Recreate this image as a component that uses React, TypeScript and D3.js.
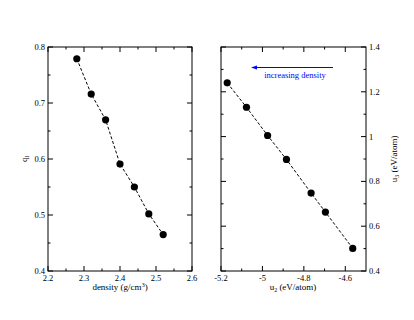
import { useEffect, useRef } from "react";
import * as d3 from "d3";

const density = [2.28, 2.32, 2.36, 2.4, 2.44, 2.48, 2.52];
const qValues = [0.779, 0.716, 0.67, 0.591, 0.55, 0.502, 0.465];
const u2Values = [-5.17, -5.077, -4.975, -4.884, -4.765, -4.696, -4.564];
const u3Values = [1.24, 1.131, 1.005, 0.898, 0.748, 0.663, 0.501];

const leftXTicks = [2.2, 2.3, 2.4, 2.5, 2.6];
const leftYTicks = [0.4, 0.5, 0.6, 0.7, 0.8];
const rightXTicks = [-5.2, -5, -4.8, -4.6];
const rightYTicks = [0.4, 0.6, 0.8, 1, 1.2, 1.4];

const FONT = "'Liberation Serif', 'Times New Roman', serif";

const App = () => {
  const svgRef = useRef<SVGSVGElement>(null);

  useEffect(() => {
    const svg = d3.select(svgRef.current);
    svg.selectAll("*").remove();
    const top = 47;
    const bottom = 271;

    const drawPanel = (opts: {
      x0: number;
      x1: number;
      xDomain: [number, number];
      yDomain: [number, number];
      xMajor: number[];
      xMinor: number[];
      yMajor: number[];
      yMinor: number[];
      xs: number[];
      ys: number[];
      yRight: boolean;
    }) => {
      const x = d3.scaleLinear().domain(opts.xDomain).range([opts.x0, opts.x1]);
      const y = d3.scaleLinear().domain(opts.yDomain).range([bottom, top]);
      const g = svg.append("g");
      const major = 5;
      const minor = 2.5;
      // ticks on all four sides, pointing inward
      opts.xMajor.concat(opts.xMinor).forEach((v) => {
        const len = opts.xMajor.includes(v) ? major : minor;
        g.append("line")
          .attr("x1", x(v)).attr("x2", x(v))
          .attr("y1", bottom).attr("y2", bottom - len)
          .attr("stroke", "#000");
        g.append("line")
          .attr("x1", x(v)).attr("x2", x(v))
          .attr("y1", top).attr("y2", top + len)
          .attr("stroke", "#000");
      });
      opts.yMajor.concat(opts.yMinor).forEach((v) => {
        const len = opts.yMajor.includes(v) ? major : minor;
        g.append("line")
          .attr("x1", opts.x0).attr("x2", opts.x0 + len)
          .attr("y1", y(v)).attr("y2", y(v))
          .attr("stroke", "#000");
        g.append("line")
          .attr("x1", opts.x1).attr("x2", opts.x1 - len)
          .attr("y1", y(v)).attr("y2", y(v))
          .attr("stroke", "#000");
      });
      g.append("rect")
        .attr("x", opts.x0).attr("y", top)
        .attr("width", opts.x1 - opts.x0).attr("height", bottom - top)
        .attr("fill", "none").attr("stroke", "#000");

      g.selectAll(".xl")
        .data(opts.xMajor)
        .enter()
        .append("text")
        .attr("x", (d) => x(d))
        .attr("y", bottom + 10)
        .attr("text-anchor", "middle")
        .attr("font-size", 8.5)
        .attr("font-family", FONT)
        .attr("fill", "#000")
        .text((d) => String(d));
      g.selectAll(".yl")
        .data(opts.yMajor)
        .enter()
        .append("text")
        .attr("x", opts.yRight ? opts.x1 + 3 : opts.x0 - 3)
        .attr("y", (d) => y(d) + 3)
        .attr("text-anchor", opts.yRight ? "start" : "end")
        .attr("font-size", 8.5)
        .attr("font-family", FONT)
        .attr("fill", "#000")
        .text((d) => String(d));

      const pts = opts.xs.map((v, i) => [x(v), y(opts.ys[i])] as [number, number]);
      g.append("path")
        .attr("d", d3.line()(pts))
        .attr("fill", "none")
        .attr("stroke", "#000")
        .attr("stroke-dasharray", "3,2");
      g.selectAll("circle")
        .data(pts)
        .enter()
        .append("circle")
        .attr("cx", (d) => d[0])
        .attr("cy", (d) => d[1])
        .attr("r", 3.6)
        .attr("fill", "#000");
    };

    drawPanel({
      x0: 48,
      x1: 192,
      xDomain: [2.2, 2.6],
      yDomain: [0.4, 0.8],
      xMajor: leftXTicks,
      xMinor: [2.25, 2.35, 2.45, 2.55],
      yMajor: leftYTicks,
      yMinor: [0.45, 0.55, 0.65, 0.75],
      xs: density,
      ys: qValues,
      yRight: false,
    });
    drawPanel({
      x0: 221,
      x1: 366,
      xDomain: [-5.2, -4.5],
      yDomain: [0.4, 1.4],
      xMajor: rightXTicks,
      xMinor: [-5.1, -4.9, -4.7],
      yMajor: rightYTicks,
      yMinor: [0.5, 0.7, 0.9, 1.1, 1.3],
      xs: u2Values,
      ys: u3Values,
      yRight: true,
    });

    // axis titles
    const t1 = svg.append("text")
      .attr("x", 120).attr("y", 290)
      .attr("text-anchor", "middle")
      .attr("font-size", 9).attr("font-family", FONT)
      .text("density (g/cm");
    t1.append("tspan").attr("dy", -3.5).attr("font-size", 6).text("3");
    t1.append("tspan").attr("dy", 3.5).text(")");

    const t2 = svg.append("text")
      .attr("x", 293).attr("y", 290)
      .attr("text-anchor", "middle")
      .attr("font-size", 9).attr("font-family", FONT)
      .text("u");
    t2.append("tspan").attr("dy", 2).attr("font-size", 6).text("2");
    t2.append("tspan").attr("dy", -2).text(" (eV/atom)");

    const t3 = svg.append("text")
      .attr("transform", "translate(27,159) rotate(-90)")
      .attr("text-anchor", "middle")
      .attr("font-size", 9).attr("font-family", FONT)
      .text("q");
    t3.append("tspan").attr("dy", 2).attr("font-size", 6).text("l");

    const t4 = svg.append("text")
      .attr("transform", "translate(397,159) rotate(-90)")
      .attr("text-anchor", "middle")
      .attr("font-size", 9).attr("font-family", FONT)
      .text("u");
    t4.append("tspan").attr("dy", 2).attr("font-size", 6).text("3");
    t4.append("tspan").attr("dy", -2).text(" (eV/atom)");

    // annotation arrow
    svg.append("line")
      .attr("x1", 333).attr("x2", 255)
      .attr("y1", 67.5).attr("y2", 67.5)
      .attr("stroke", "#0000ff").attr("stroke-width", 1);
    svg.append("path")
      .attr("d", "M251,67.5 L257,65.5 L257,69.5 Z")
      .attr("fill", "#0000ff");
    svg.append("text")
      .attr("x", 295).attr("y", 78)
      .attr("text-anchor", "middle")
      .attr("font-size", 8.5).attr("font-family", FONT)
      .attr("fill", "#0000ff")
      .text("increasing density");
  }, []);

  return (
    <svg
      ref={svgRef}
      width={414}
      height={320}
      style={{ position: "absolute", left: 0, top: 0, background: "#fff" }}
    ></svg>
  );
};

export default App;
